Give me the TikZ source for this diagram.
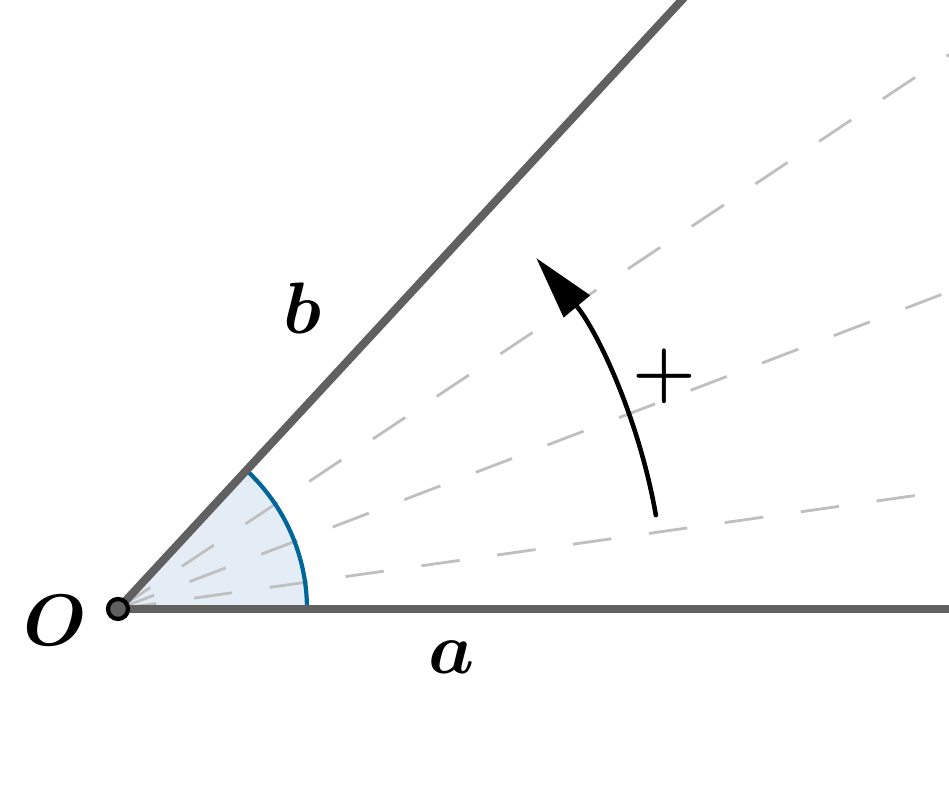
\documentclass[tikz,border=0pt]{standalone}
\usepackage{tikz}
\usetikzlibrary{calc,arrows.meta}
\definecolor{raygray}{RGB}{96,96,96}
\definecolor{arcblue}{RGB}{0,102,153}
\definecolor{sectorfill}{RGB}{228,237,245}
\def\sweep[#1](#2)(#3:#4:#5){\draw[#1] ($(#2)+(#3:#5)$) arc (#3:#4:#5);}

\begin{document}
\begin{tikzpicture}[
  ray/.style={line width=2.3pt, color=raygray},
  guide/.style={line width=0.8pt, color=black!25, dash pattern=on 11pt off 10.8pt},
  sidelabel/.style={font=\fontsize{20}{24}\selectfont\boldmath}]
		%%%%% START %%%%%
		\useasboundingbox (0,0) rectangle (9.49,7.98);
		\clip (0,0) rectangle (9.49,7.98);
		\coordinate (O) at (1.18,1.89);
		
		\fill[sectorfill] (O) -- ++(1.89,0) arc (0:47.2:1.89) -- cycle;
		\foreach \t in {8.1,20.9,33.7}
			\draw[guide] (O) -- ++(\t:12);
		\sweep[arcblue, line width=1.2pt](O)(0:47.2:1.89);
		
		\draw[ray] (O) -- ++(0:9);
		\draw[ray] (O) -- ++(47.2:9);
		\draw[fill=raygray, line width=1.2pt] (O) circle (0.1);
		
		\sweep[line width=1.3pt, line cap=round, -{Triangle[length=18pt,width=9.5pt]}](O)(9.9:40:5.46);
		
		\node[sidelabel] (labO) at (0.55,1.77) {$O$};
		\node[sidelabel] (labA) at (4.52,1.41) {$a$};
		\node[sidelabel] (labB) at (3.02,4.90) {$b$};
		\node[font=\fontsize{21}{25}\selectfont\boldmath] (sense) at (6.64,4.22) {$+$};
		%%%%% END %%%%%
\end{tikzpicture}
\end{document}
